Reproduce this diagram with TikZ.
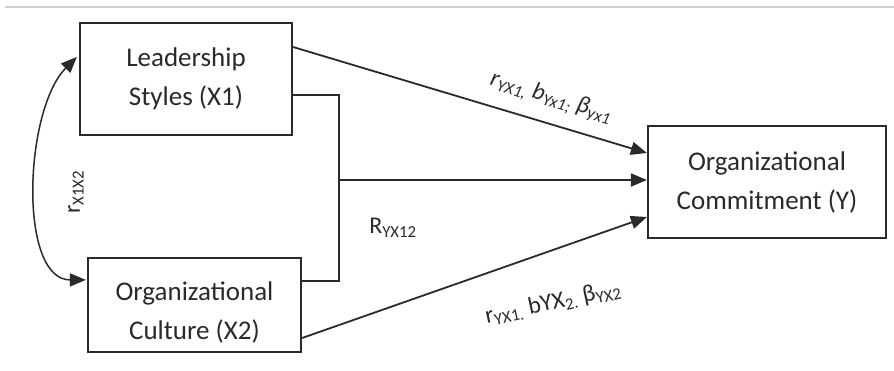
\documentclass[tikz,border=0pt]{standalone}
\usepackage{fontspec}
\setmainfont{Carlito}
\usetikzlibrary{arrows.meta}
\definecolor{ink}{HTML}{2A2A2A}
\definecolor{rule}{HTML}{C9D1DD}
\begin{document}
\begin{tikzpicture}[x=1pt,y=-1pt,
  varbox/.style={draw=ink,line width=2.2pt,fill=white,inner sep=0pt,
    align=center,font=\fontsize{27}{39}\selectfont,text=ink},
  link/.style={draw=ink,line width=1.8pt},
  tip/.style={-{Triangle[length=16pt,width=13pt]}},
  coef/.style={text=ink,inner sep=0pt}]
\useasboundingbox (0,0) rectangle (894,370);
\fill[white] (0,0) rectangle (894,370);
% thin rule along the top
\draw[rule,line width=2pt] (5,7) -- (894,7);

% variables
\node[varbox,minimum width=212pt,minimum height=112pt] (x1) at (186,79)
  {Leadership\\Styles (X1)};
\node[varbox,minimum width=213pt,minimum height=94pt] (x2) at (194.5,305) {};
\node[varbox,draw=none,fill=none] (x2txt) at (194.5,312)
  {Organizational\\Culture (X2)};
\node[varbox,minimum width=238pt,minimum height=112pt] (y) at (767,182)
  {Organizational\\Commitment (Y)};

% joint path of X1 and X2
\coordinate (j) at (339,180);
\draw[link] (x1.east |- 0,95) -| (339,281) -- (x2.east |- 0,281);
\draw[link,tip] (j) -- (y.west |- j);

% single paths
\draw[link,tip] (x1.east |- 0,47) -- (y.west |- 0,153);
\draw[link,tip] (x2.east |- 0,338) -- (y.west |- 0,217);

% correlation between X1 and X2
\draw[link,line width=1.5pt,{Triangle[length=16pt,width=13pt]}-{Triangle[length=16pt,width=13pt]}]
  ([shift={(-2,35)}]x1.north west) .. controls (24,110) and (18,280) .. ([shift={(-1,23)}]x2.north west);
\node[coef,rotate=90,font=\fontsize{24}{24}\selectfont] (rx) at (76,192)
  {r\textsubscript{X1X2}};

% coefficients
\node[coef,rotate=-17,font=\itshape\fontsize{24}{24}\selectfont] (c1) at (551,98)
  {r\textsubscript{YX1,} b\textsubscript{Yx1;} \textit{β}\textsubscript{yx1}};
\node[coef,font=\fontsize{24}{24}\selectfont] (c2) at (393,228)
  {R\textsubscript{YX12}};
\node[coef,rotate=12,font=\fontsize{24}{24}\selectfont] (c3) at (553,303)
  {r\textsubscript{YX1.} bYX\textsubscript{2.} β\textsubscript{YX2}};
\end{tikzpicture}
\end{document}
